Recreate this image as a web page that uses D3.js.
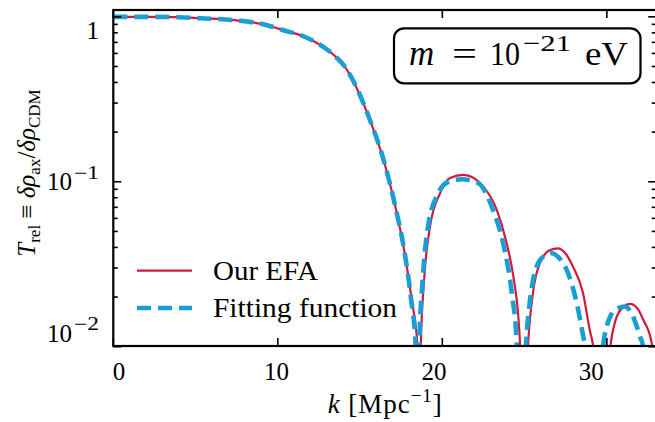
<!DOCTYPE html>
<html><head><meta charset="utf-8">
<script src="https://cdn.jsdelivr.net/npm/d3@7"></script>
<style>
html,body{margin:0;padding:0;background:#fff;}
svg{display:block;}
text{font-family:"Liberation Serif","DejaVu Serif",serif;fill:#000;}
</style></head>
<body>
<svg id="c" width="655" height="422"></svg>
<script>
// ---- data ----
const kEFA = [0, 2, 4, 5.3, 7.3, 9.3, 10.3, 11.8, 13.4, 14.0, 15.6, 16.52, 17.12, 17.73, 18.15, 18.49, 18.58, 18.69, 18.9, 19.25, 19.86, 20.47, 21.28, 22.49, 23.31, 23.91, 24.32, 24.62, 24.72, 24.95, 25.21, 25.51, 25.94, 26.55, 27.03, 27.5, 27.94, 28.55, 28.98, 29.14, 29.65, 30.24, 30.6, 31.0, 31.41, 31.85, 32.22, 32.73, 33.0];
const tEFA = [1.0, 1.0, 0.995, 0.98, 0.956, 0.892, 0.832, 0.744, 0.587, 0.51, 0.237, 0.126, 0.0725, 0.036, 0.0189, 0.0101, 0.002, 0.0101, 0.026, 0.0534, 0.0851, 0.1055, 0.110, 0.0934, 0.0675, 0.0424, 0.0266, 0.0152, 0.01055, 0.002, 0.0101, 0.0212, 0.0322, 0.0386, 0.0395, 0.0366, 0.0306, 0.0212, 0.01236, 0.0105, 0.002, 0.0105, 0.0152, 0.0174, 0.01817, 0.0171, 0.01453, 0.0105, 0.002];
const kFit = [0, 2, 4, 5.3, 7.3, 9.3, 10.3, 11.8, 13.4, 14.0, 15.6, 16.52, 17.12, 17.73, 18.1, 18.38, 18.49, 18.6, 18.8, 19.13, 19.74, 20.35, 21.18, 22.17, 23.08, 23.69, 24.22, 24.52, 24.75, 25.09, 25.33, 25.94, 26.65, 27.1, 27.56, 28.17, 28.57, 28.68, 29.2, 29.79, 30.2, 30.65, 31.11, 31.6, 32.02, 32.2, 32.6, 33.0];
const tFit = [1.0, 1.0, 0.995, 0.98, 0.956, 0.892, 0.832, 0.744, 0.587, 0.51, 0.237, 0.126, 0.0725, 0.036, 0.0195, 0.0101, 0.002, 0.0101, 0.025, 0.0534, 0.085, 0.0997, 0.1035, 0.0983, 0.0675, 0.0426, 0.0212, 0.0105, 0.002, 0.0105, 0.0192, 0.0336, 0.0369, 0.0345, 0.0292, 0.0184, 0.0115, 0.0101, 0.002, 0.0105, 0.0152, 0.0171, 0.0175, 0.0152, 0.0115, 0.0101, 0.002, 0.004];
const xTicks = [0, 10, 20, 30];
const yMajor = [1, 0.1, 0.01];
const yMajorLabels = [["1", ""], ["10", "\u22121"], ["10", "\u22122"]];
const yMinor = [0.02,0.03,0.04,0.05,0.06,0.07,0.08,0.09,0.2,0.3,0.4,0.5,0.6,0.7,0.8,0.9];
const seriesNames = ["Our EFA", "Fitting function"];

// ---- layout ----
const L = 113.3, R = 656.2, T = 10, B = 346;
const svg = d3.select("#c");
const x = d3.scaleLinear().domain([0, 33]).range([L, R]);
const y = d3.scaleLog().domain([0.0101, 1.1]).range([B, T]);
// tick labels in the reference sit on a slightly compressed grid
const xLab = v => 119 + 0.957 * (x(v) - L);
const yLab = v => 30 + 0.92 * (y(v) - y(1));

svg.append("defs").append("clipPath").attr("id","clip")
  .append("rect").attr("x", L).attr("y", T).attr("width", R - L).attr("height", B - T);

const line = d3.line().x(d => x(d[0])).y(d => y(d[1])).curve(d3.curveMonotoneX);
const g = svg.append("g").attr("clip-path", "url(#clip)");
g.append("path").datum(d3.zip(kEFA, tEFA)).attr("d", line)
  .attr("fill","none").attr("stroke","#d3183a").attr("stroke-width",2.2);
g.append("path").datum(d3.zip(kFit, tFit)).attr("d", line)
  .attr("fill","none").attr("stroke","#1a9ed3").attr("stroke-width",4.6)
  .attr("stroke-dasharray","14,7");

// frame
svg.append("rect").attr("x", L).attr("y", T).attr("width", R - L).attr("height", B - T)
  .attr("fill","none").attr("stroke","#000").attr("stroke-width",2.2);

// ticks (inward, on all four sides)
const tk = svg.append("g").attr("stroke","#000").attr("stroke-width",1.6);
xTicks.forEach(v => {
  tk.append("line").attr("x1", x(v)).attr("x2", x(v)).attr("y1", B).attr("y2", B - 8);
  tk.append("line").attr("x1", x(v)).attr("x2", x(v)).attr("y1", T).attr("y2", T + 8);
});
yMajor.forEach(v => {
  tk.append("line").attr("x1", L).attr("x2", L + 8).attr("y1", y(v)).attr("y2", y(v));
  tk.append("line").attr("x1", R).attr("x2", R - 8).attr("y1", y(v)).attr("y2", y(v));
});
yMinor.forEach(v => {
  tk.append("line").attr("x1", L).attr("x2", L + 4.5).attr("y1", y(v)).attr("y2", y(v));
  tk.append("line").attr("x1", R).attr("x2", R - 4.5).attr("y1", y(v)).attr("y2", y(v));
});

// x tick labels
svg.append("g").selectAll("text").data(xTicks).join("text")
  .attr("x", d => xLab(d)).attr("y", 380).attr("text-anchor","middle")
  .attr("font-size", 25).text(d => d);

// y tick labels
yMajor.forEach((v, i) => {
  const cy = yLab(v);
  if (yMajorLabels[i][1]) {
    svg.append("text").attr("x", 47).attr("y", cy + 8.5).attr("font-size", 25)
      .attr("textLength", 25).attr("lengthAdjust","spacingAndGlyphs").text(yMajorLabels[i][0]);
    svg.append("text").attr("x", 74).attr("y", cy - 3).attr("font-size", 18)
      .attr("textLength", 25).attr("lengthAdjust","spacingAndGlyphs").text(yMajorLabels[i][1]);
  } else {
    svg.append("text").attr("x", 99).attr("y", cy + 8.5).attr("text-anchor","end").attr("font-size", 25)
      .text(yMajorLabels[i][0]);
  }
});

// x axis label
const xl = svg.append("text").attr("x", (L + R) / 2).attr("y", 413).attr("text-anchor","middle")
  .attr("font-size",27).attr("textLength",114).attr("lengthAdjust","spacing");
xl.append("tspan").attr("font-style","italic").text("k");
xl.append("tspan").text(" [Mpc");
xl.append("tspan").attr("dy",-11).attr("font-size",19).text("\u22121");
xl.append("tspan").attr("dy",11).text("]");

// y axis label
const yl = svg.append("text").attr("transform","translate(35,173) rotate(-90)").attr("text-anchor","middle").attr("font-size",25);
yl.append("tspan").attr("font-style","italic").text("T");
yl.append("tspan").attr("dy",5).attr("font-size",17).text("rel");
yl.append("tspan").attr("dy",-5).text(" \u2261 ");
yl.append("tspan").attr("font-style","italic").text("\u03b4\u03c1");
yl.append("tspan").attr("dy",5).attr("font-size",17).text("ax");
yl.append("tspan").attr("dy",-5).text("/");
yl.append("tspan").attr("font-style","italic").text("\u03b4\u03c1");
yl.append("tspan").attr("dy",5).attr("font-size",17).text("CDM");

// legend
const lg = svg.append("g");
lg.append("line").attr("x1",137).attr("x2",192).attr("y1",270.7).attr("y2",270.7)
  .attr("stroke","#d3183a").attr("stroke-width",2.2);
lg.append("line").attr("x1",137).attr("x2",192).attr("y1",308).attr("y2",308)
  .attr("stroke","#1a9ed3").attr("stroke-width",4.6).attr("stroke-dasharray","14,7");
lg.append("text").attr("x",213).attr("y",280).attr("font-size",27)
  .attr("textLength",105).attr("lengthAdjust","spacingAndGlyphs").text(seriesNames[0]);
lg.append("text").attr("x",213).attr("y",317).attr("font-size",27)
  .attr("textLength",184).attr("lengthAdjust","spacingAndGlyphs").text(seriesNames[1]);

// annotation box
svg.append("rect").attr("x",394).attr("y",28.3).attr("width",246.5).attr("height",55)
  .attr("rx",10).attr("ry",10).attr("fill","#fff").attr("stroke","#000").attr("stroke-width",2.2);
const ann = svg.append("g").attr("font-size",33);
ann.append("text").attr("x",409).attr("y",65).attr("font-style","italic").attr("font-size",35).text("m");
ann.append("text").attr("x",452).attr("y",65)
  .attr("textLength",25).attr("lengthAdjust","spacingAndGlyphs").text("=");
ann.append("text").attr("x",490).attr("y",65)
  .attr("textLength",30).attr("lengthAdjust","spacingAndGlyphs").text("10");
ann.append("text").attr("x",523).attr("y",51).attr("font-size",23)
  .attr("textLength",48).attr("lengthAdjust","spacingAndGlyphs").text("\u221221");
ann.append("text").attr("x",585).attr("y",65)
  .attr("textLength",43).attr("lengthAdjust","spacingAndGlyphs").text("eV");
</script>
</body></html>
